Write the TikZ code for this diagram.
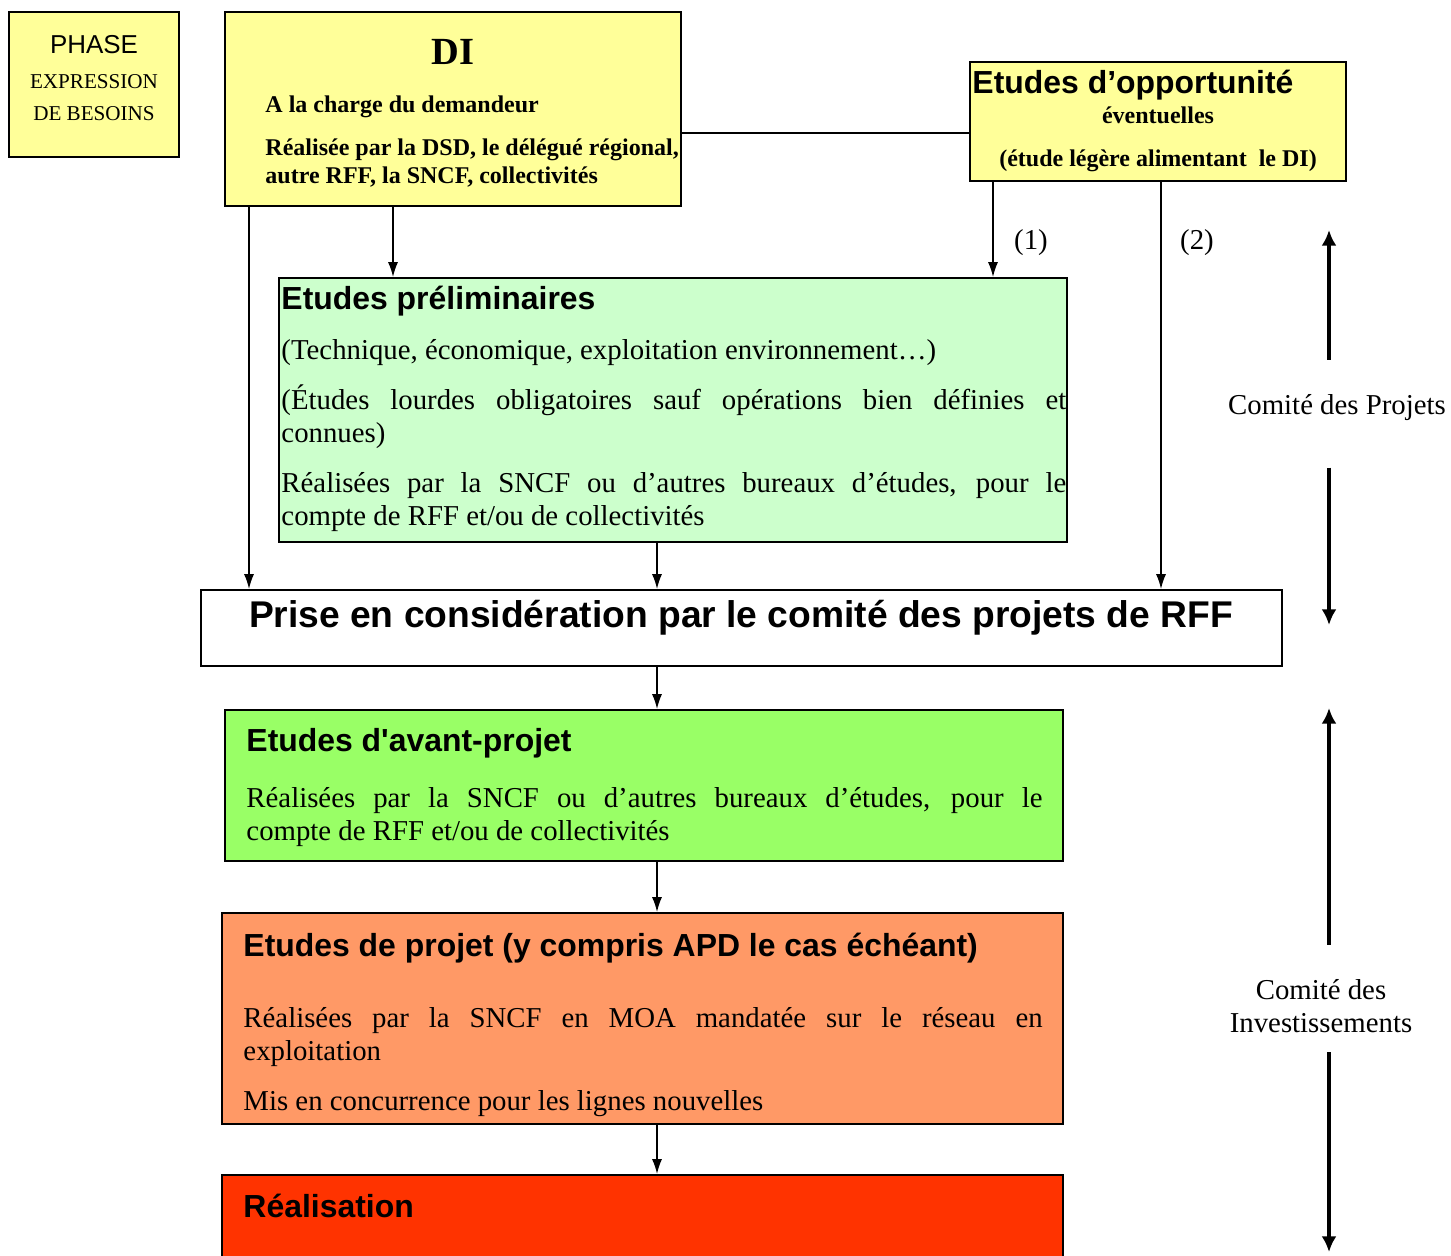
\documentclass[tikz,border=0pt]{standalone}
\usepackage{fontspec}
\setmainfont{Liberation Serif}
\setsansfont{Liberation Sans}
\usepackage{tikz}
\usetikzlibrary{arrows.meta,positioning,fit}
\definecolor{jaune}{HTML}{FFFF99}
\definecolor{vertclair}{HTML}{CCFFCC}
\definecolor{vert}{HTML}{99FF66}
\definecolor{orange}{HTML}{FF9966}
\definecolor{rouge}{HTML}{FF3300}
\tikzset{
  boite/.style={draw, line width=0.85pt, inner sep=0pt},
  titre/.style={font=\sffamily\bfseries\fontsize{13.3}{16}\selectfont, inner sep=0pt, anchor=west},
  corps/.style={font=\fontsize{12}{13.9}\selectfont, inner sep=0pt, anchor=north west, align=justify},
  gras/.style={font=\bfseries\fontsize{10}{11.7}\selectfont, inner sep=0pt},
  texte/.style={font=\fontsize{12}{13.9}\selectfont, inner sep=0pt},
  fl/.style={-{Latex[length=6.2pt,width=4.2pt]}, line width=0.6pt},
  comite/.style={-{Latex[length=6.5pt,width=6.2pt]}, line width=1.7pt},
}

\begin{document}
\begin{tikzpicture}[x=0.41667pt,y=-0.41667pt]
\clip (0,0) rectangle (1451,1255);

% boites
\node[boite, fill=jaune, fit={(9,12) (179,157)}] (phase) {};
\node[boite, fill=jaune, fit={(225,12) (681,206)}] (di) {};
\node[boite, fill=jaune, fit={(970,62) (1346,181)}] (eo) {};
\node[boite, fill=vertclair, fit={(279,278) (1067,542)}] (prelim) {};
\node[boite, fill=white, fit={(201,590) (1282,666)}] (prise) {};
\node[boite, fill=vert, fit={(225,710) (1063,861)}] (avp) {};
\node[boite, fill=orange, fit={(222,913) (1063,1124)}] (projet) {};
\node[boite, fill=rouge, fit={(222,1175) (1063,1290)}] (real) {};

% phase
\node[font=\sffamily\fontsize{10.8}{13}\selectfont, inner sep=0pt] (phaseA) at (94,45) {PHASE};
\node[font=\fontsize{8.8}{10}\selectfont, inner sep=0pt] (phaseB) at (94,82) {EXPRESSION};
\node[font=\fontsize{8.8}{10}\selectfont, inner sep=0pt] (phaseC) at (94,114) {DE BESOINS};

% DI
\node[font=\bfseries\fontsize{16}{19}\selectfont, inner sep=0pt] (diT) at (453,52) {DI};
\node[gras, anchor=west] (diA) at (265,107) {A la charge du demandeur};
\node[gras, anchor=north west, align=left] (diB) at (265,138)
  {Réalisée par la DSD, le délégué régional,\\autre RFF, la SNCF, collectivités};

% etudes d'opportunite
\node[titre] (eoT) at (972,85) {Etudes d’opportunité};
\node[gras] (eoA) at (1158,115) {éventuelles};
\node[gras] (eoB) at (1158,161) {(étude légère alimentant\ \ le DI)};

% etudes preliminaires
\node[titre] (preT) at (281,301) {Etudes préliminaires};
\node[corps, text width=327pt] (preA) at (281,339)
  {(Technique, économique, exploitation environnement…)};
\node[corps, text width=327pt] (preB) at (281,384)
  {(Études lourdes obligatoires sauf opérations bien définies et\linebreak connues)};
\node[corps, text width=327pt] (preC) at (281,472)
  {Réalisées par la SNCF ou d’autres bureaux d’études, pour le\linebreak compte de RFF et/ou de collectivités};

% prise en consideration
\node[font=\sffamily\bfseries\fontsize{15.5}{18}\selectfont, inner sep=0pt] (priseT) at (741,618)
  {Prise en considération par le comité des projets de RFF};

% avant-projet
\node[titre] (avpT) at (246,743) {Etudes d\textquotesingle avant-projet};
\node[corps, text width=331.7pt] (avpA) at (246,787)
  {Réalisées par la SNCF ou d’autres bureaux d’études, pour le\linebreak compte de RFF et/ou de collectivités};

% projet
\node[titre] (projT) at (243,948) {Etudes de projet (y compris APD le cas échéant)};
\node[corps, text width=333pt] (projA) at (243,1007)
  {Réalisées par la SNCF en MOA mandatée sur le réseau en\linebreak exploitation};
\node[corps, text width=333pt] (projB) at (243,1090)
  {Mis en concurrence pour les lignes nouvelles};

% realisation
\node[titre] (realT) at (243,1206) {Réalisation};

% liaisons
\coordinate (c1) at (249,0);
\coordinate (c2) at (393,0);
\coordinate (c3) at (993,0);
\coordinate (c4) at (1161,0);
\coordinate (c5) at (657,0);
\coordinate (r1) at (0,133);
\draw[line width=0.6pt] (di.east |- r1) -- (eo.west |- r1);
\draw[fl] (di.south -| c1) -- (prise.north -| c1);
\draw[fl] (di.south -| c2) -- (prelim.north -| c2);
\draw[fl] (eo.south -| c3) -- (prelim.north -| c3);
\draw[fl] (eo.south -| c4) -- (prise.north -| c4);
\draw[fl] (prelim.south -| c5) -- (prise.north -| c5);
\draw[fl] (prise.south -| c5) -- (avp.north -| c5);
\draw[fl] (avp.south -| c5) -- (projet.north -| c5);
\draw[fl] (projet.south -| c5) -- (real.north -| c5);
\node[texte] (n1) at (1031,243) {(1)};
\node[texte] (n2) at (1197,243) {(2)};

% comites
\node[texte, anchor=base, text height=22.7pt, text depth=21.9pt] (cp) at (1337,414.5) {Comité des Projets};
\node[texte, anchor=base, text height=22.7pt] (ciA) at (1321,999.5) {Comité des};
\node[texte, anchor=base, text depth=8.1pt] (ciB) at (1321,1032.5) {Investissements};
\coordinate (cpHaut) at (1329,230);
\coordinate (cpBas) at (1329,625);
\coordinate (ciHaut) at (1329,708);
\coordinate (ciBas) at (1329,1252);
\draw[comite] (cp.north -| cpHaut) -- (cpHaut);
\draw[comite] (cp.south -| cpBas) -- (cpBas);
\draw[comite] (ciA.north -| ciHaut) -- (ciHaut);
\draw[comite] (ciB.south -| ciBas) -- (ciBas);
\end{tikzpicture}
\end{document}
